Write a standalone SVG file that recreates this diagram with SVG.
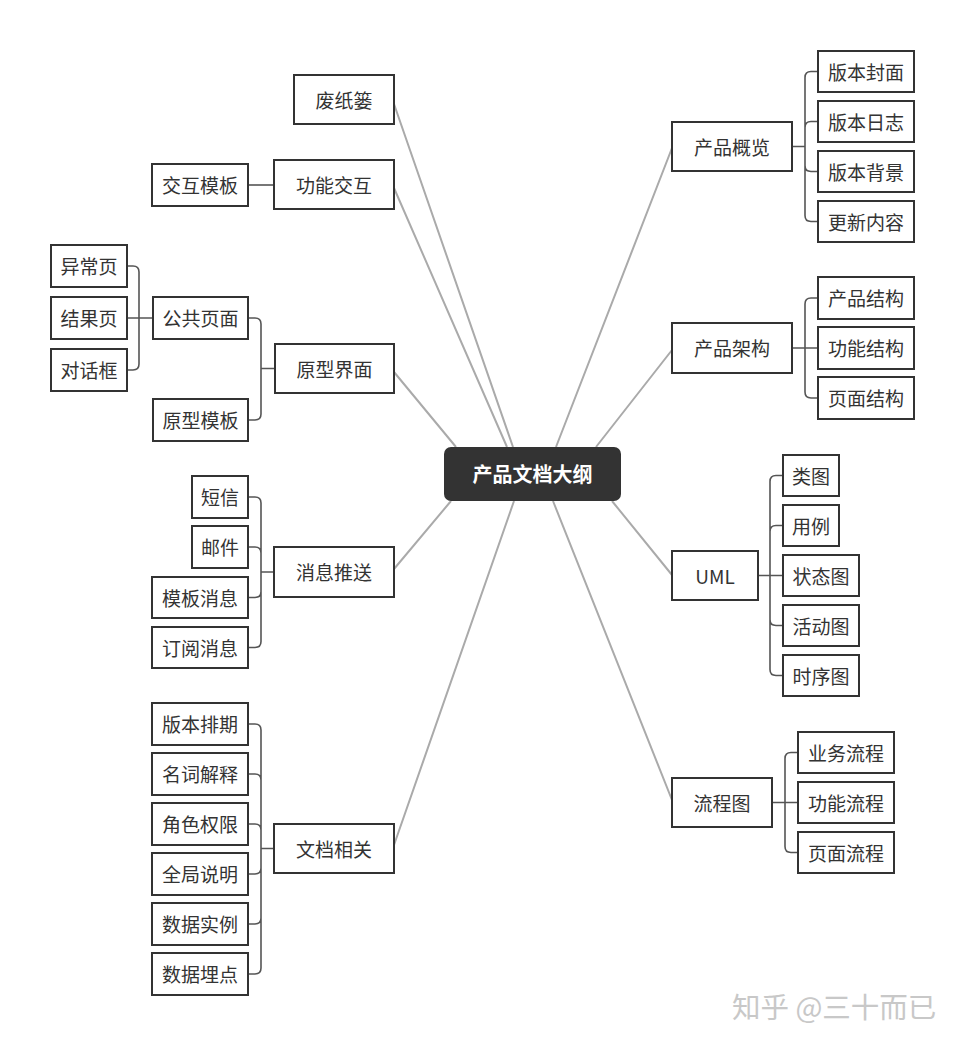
<svg xmlns="http://www.w3.org/2000/svg" width="964" height="1045" viewBox="0 0 964 1045">
<style>
.n rect{fill:#fff;stroke:#333;stroke-width:2}
.n text{font-family:"Noto Sans CJK SC","Noto Sans",sans-serif;font-size:19px;fill:#333;text-anchor:middle;dominant-baseline:central}
.main{fill:none;stroke:#aaa;stroke-width:2}
.sub{fill:none;stroke:#555;stroke-width:1.6}
.root rect{fill:#333}
.root text{font-family:"Noto Sans CJK SC","Noto Sans",sans-serif;font-size:20px;font-weight:bold;fill:#fff;text-anchor:middle;dominant-baseline:central}
.wm{font-family:"Noto Sans CJK SC","Noto Sans",sans-serif;font-size:28.5px;fill:#c8c8c8}
</style>
<rect width="964" height="1045" fill="#fff"/>
<g id="connectors">
<path class="main" d="M394,104 L513,447 M394,188 L507,447 M394,372 L456,447 M394,569 L451,501 M394,845 L514,501 M672,148 L556,447 M672,350 L596,447 M672,575 L612,501 M672,800 L553,501"/>
<path class="sub" d="M792,146.5 H805 M805,77.5 V215.5 M805,77.5 Q805,71.5 811,71.5 H818 M805,127.5 Q805,121.5 811,121.5 H818 M805,165.5 Q805,171.5 811,171.5 H818 M805,215.5 Q805,221.5 811,221.5 H818"/>
<path class="sub" d="M792,348 H818 M805,304 V392 M805,304 Q805,298 811,298 H818 M805,392 Q805,398 811,398 H818"/>
<path class="sub" d="M758,575.5 H783 M770,481.5 V669.5 M770,481.5 Q770,475.5 776,475.5 H783 M770,531.5 Q770,525.5 776,525.5 H783 M770,619.5 Q770,625.5 776,625.5 H783 M770,669.5 Q770,675.5 776,675.5 H783"/>
<path class="sub" d="M772,802.5 H798 M785,758.5 V846.5 M785,758.5 Q785,752.5 791,752.5 H798 M785,846.5 Q785,852.5 791,852.5 H798"/>
<path class="sub" d="M248,185 H274"/>
<path class="sub" d="M275,368.5 H261 M261,324 V414 M261,324 Q261,318 255,318 H248 M261,414 Q261,420 255,420 H248"/>
<path class="sub" d="M153,318 H127 M139,272 V364 M139,272 Q139,266 133,266 H127 M139,364 Q139,370 133,370 H127"/>
<path class="sub" d="M274,572 H261 M261,503 V641.5 M261,503 Q261,497 255,497 H248 M261,553 Q261,547 255,547 H248 M261,591.5 Q261,597.5 255,597.5 H248 M261,641.5 Q261,647.5 255,647.5 H248"/>
<path class="sub" d="M274,848.5 H261 M261,730 V968 M261,730 Q261,724 255,724 H248 M261,780 Q261,774 255,774 H248 M261,830 Q261,824 255,824 H248 M261,868 Q261,874 255,874 H248 M261,918 Q261,924 255,924 H248 M261,968 Q261,974 255,974 H248"/>
</g>
<g id="root" class="root"><rect x="444" y="447" width="177" height="54" rx="7"/><text x="532.5" y="473.5">产品文档大纲</text></g>
<g id="n-overview" class="n"><rect x="672" y="122" width="120" height="49"/><text x="732" y="146">产品概览</text></g>
<g id="n-cover" class="n"><rect x="818" y="51" width="96" height="41"/><text x="866" y="71">版本封面</text></g>
<g id="n-log" class="n"><rect x="818" y="101" width="96" height="41"/><text x="866" y="121">版本日志</text></g>
<g id="n-bg" class="n"><rect x="818" y="151" width="96" height="41"/><text x="866" y="171">版本背景</text></g>
<g id="n-update" class="n"><rect x="818" y="201" width="96" height="41"/><text x="866" y="221">更新内容</text></g>
<g id="n-arch" class="n"><rect x="672" y="323" width="120" height="50"/><text x="732" y="347.5">产品架构</text></g>
<g id="n-pstruct" class="n"><rect x="818" y="277" width="96" height="42"/><text x="866" y="297.5">产品结构</text></g>
<g id="n-fstruct" class="n"><rect x="818" y="327" width="96" height="42"/><text x="866" y="347.5">功能结构</text></g>
<g id="n-pgstruct" class="n"><rect x="818" y="377" width="96" height="42"/><text x="866" y="397.5">页面结构</text></g>
<g id="n-uml" class="n"><rect x="672" y="551" width="86" height="49"/><text x="715" y="575">UML</text></g>
<g id="n-class" class="n"><rect x="783" y="455" width="56" height="41"/><text x="811" y="475">类图</text></g>
<g id="n-usecase" class="n"><rect x="783" y="505" width="56" height="41"/><text x="811" y="525">用例</text></g>
<g id="n-state" class="n"><rect x="783" y="555" width="76" height="41"/><text x="821" y="575">状态图</text></g>
<g id="n-activity" class="n"><rect x="783" y="605" width="76" height="41"/><text x="821" y="625">活动图</text></g>
<g id="n-seq" class="n"><rect x="783" y="655" width="76" height="41"/><text x="821" y="675">时序图</text></g>
<g id="n-flow" class="n"><rect x="672" y="778" width="100" height="49"/><text x="722" y="802">流程图</text></g>
<g id="n-bizflow" class="n"><rect x="798" y="732" width="96" height="41"/><text x="846" y="752">业务流程</text></g>
<g id="n-funcflow" class="n"><rect x="798" y="782" width="96" height="41"/><text x="846" y="802">功能流程</text></g>
<g id="n-pageflow" class="n"><rect x="798" y="832" width="96" height="41"/><text x="846" y="852">页面流程</text></g>
<g id="n-trash" class="n"><rect x="294" y="75" width="100" height="49"/><text x="344" y="99">废纸篓</text></g>
<g id="n-interact" class="n"><rect x="274" y="160" width="120" height="49"/><text x="334" y="184">功能交互</text></g>
<g id="n-itpl" class="n"><rect x="152" y="164" width="96" height="42"/><text x="200" y="184.5">交互模板</text></g>
<g id="n-proto" class="n"><rect x="275" y="344" width="119" height="49"/><text x="334.5" y="368">原型界面</text></g>
<g id="n-common" class="n"><rect x="153" y="297" width="95" height="42"/><text x="200.5" y="317.5">公共页面</text></g>
<g id="n-ptpl" class="n"><rect x="153" y="399" width="95" height="42"/><text x="200.5" y="419.5">原型模板</text></g>
<g id="n-error" class="n"><rect x="51" y="245" width="76" height="42"/><text x="89" y="265.5">异常页</text></g>
<g id="n-result" class="n"><rect x="51" y="297" width="76" height="42"/><text x="89" y="317.5">结果页</text></g>
<g id="n-dialog" class="n"><rect x="51" y="349" width="76" height="42"/><text x="89" y="369.5">对话框</text></g>
<g id="n-push" class="n"><rect x="274" y="547" width="120" height="50"/><text x="334" y="571.5">消息推送</text></g>
<g id="n-sms" class="n"><rect x="192" y="476" width="56" height="42"/><text x="220" y="496.5">短信</text></g>
<g id="n-mail" class="n"><rect x="192" y="526" width="56" height="42"/><text x="220" y="546.5">邮件</text></g>
<g id="n-tplmsg" class="n"><rect x="152" y="577" width="96" height="41"/><text x="200" y="597">模板消息</text></g>
<g id="n-submsg" class="n"><rect x="152" y="627" width="96" height="41"/><text x="200" y="647">订阅消息</text></g>
<g id="n-docs" class="n"><rect x="274" y="824" width="120" height="49"/><text x="334" y="848">文档相关</text></g>
<g id="n-sched" class="n"><rect x="152" y="703" width="96" height="42"/><text x="200" y="723.5">版本排期</text></g>
<g id="n-terms" class="n"><rect x="152" y="753" width="96" height="42"/><text x="200" y="773.5">名词解释</text></g>
<g id="n-roles" class="n"><rect x="152" y="803" width="96" height="42"/><text x="200" y="823.5">角色权限</text></g>
<g id="n-global" class="n"><rect x="152" y="853" width="96" height="42"/><text x="200" y="873.5">全局说明</text></g>
<g id="n-data" class="n"><rect x="152" y="903" width="96" height="42"/><text x="200" y="923.5">数据实例</text></g>
<g id="n-track" class="n"><rect x="152" y="953" width="96" height="42"/><text x="200" y="973.5">数据埋点</text></g>
<text class="wm" x="732" y="1018">知乎 @三十而已</text>
</svg>
